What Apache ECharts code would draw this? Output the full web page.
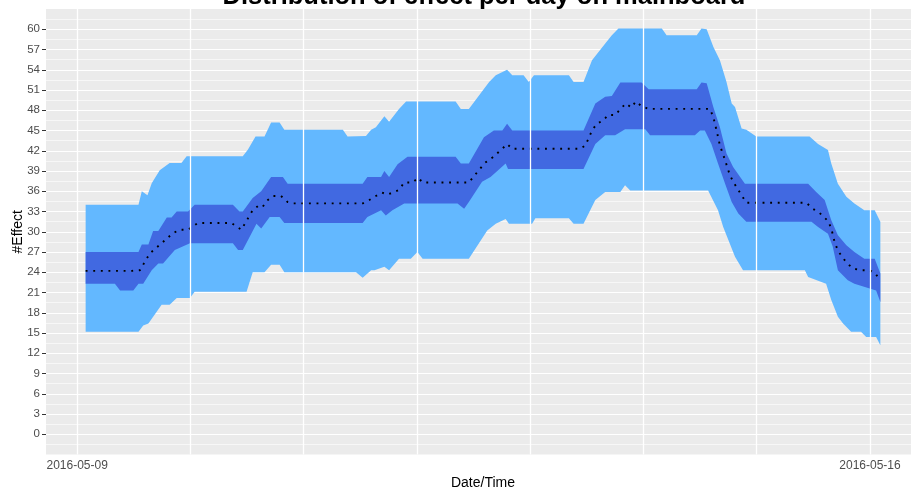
<!DOCTYPE html>
<html>
<head>
<meta charset="utf-8">
<script src="https://cdn.jsdelivr.net/npm/echarts@6/dist/echarts.min.js"></script>
<style>
  html, body { margin: 0; padding: 0; background: #fff; }
  #chart { width: 911px; height: 487px; }
</style>
</head>
<body>
<div id="chart"></div>
<script>
// hours after 2016-05-09 00:00, value
var outerHigh = [
  [1.8,34],[13,34],[13.7,36],[14.9,35.4],[15.8,37.2],[17.5,39.1],[19.6,40.2],[22.1,40.2],[23.2,41.2],
  [35.1,41.2],[36.2,42.2],[37.8,44.1],[39.7,44.1],[41.1,46.2],[42.9,46.2],[43.9,45.1],[56.3,45.1],
  [57.3,44.1],[61.2,44.2],[62.3,45.1],[63.3,45.5],[65.1,47.1],[66.1,46.3],[68.2,48.2],[69.7,49.3],
  [80.2,49.3],[81.3,48.2],[83,48.2],[87.3,52.2],[88.7,53.2],[91.1,54],[92.2,53.2],[94.6,53.2],
  [95.7,52.2],[96.8,53.2],[104.2,53.2],[105.2,52.2],[107.3,52.2],[109.1,55.4],[111.9,57.9],
  [113.3,59.1],[114.7,60.1],[123.9,60.1],[124.9,59.1],[131.3,59.1],[132.3,60.1],[133.4,60],
  [134.8,57.4],[136.2,55.4],[137.6,52.2],[138.7,49],[139.4,48.5],[140.8,45.3],[141.8,45.1],
  [143.9,44.1],[155.2,44.1],[157,43],[159.1,42.1],[159.8,40.1],[161.2,37.1],[163,35.2],
  [164.7,34.2],[166.8,33.2],[169,33.2],[170.2,31.5]
];
var outerLow = [
  [1.8,15.2],[13,15.2],[14,16.1],[15.1,16.4],[17.9,19.2],[19.6,19.2],[21.1,20.2],[23.9,20.2],
  [24.9,21.1],[35.9,21.1],[37.2,24],[39.7,24],[41.1,25.1],[42.9,25.1],[43.9,24],[59.1,24],
  [60.5,23.2],[62.3,24.3],[63,24.3],[65.1,24.8],[66.1,24.3],[68.2,26],[70.7,26],[72.1,27],
  [73.2,26],[83,26],[86.9,30.2],[88.7,31.2],[90.8,31.9],[91.5,31.2],[96.4,31.2],[97.1,32],
  [104.2,32],[105.2,31.2],[107.3,31.2],[109.8,34.7],[111.9,35.9],[115.1,35.9],[116.1,36.9],
  [117.2,36.1],[133.7,36.1],[135.8,33.2],[136.9,30.7],[139.4,26.3],[141.1,24.3],[154.2,24.3],
  [154.9,23.3],[158.7,22.3],[159.8,19.9],[161.2,17.4],[162.3,16.4],[164,15.2],[166.1,15.2],
  [167.2,14.4],[169.3,14.4],[170.2,13.2]
];
var innerHigh = [
  [1.8,27],[13,27],[13.7,28.1],[15.1,28.1],[16.1,30.1],[17.2,30.1],[19,32.1],[20,32.1],[21.1,33],
  [23.5,33],[24.9,34],[33,34],[34.4,33],[35.1,33],[37.2,35],[39,36],[41.1,38.1],[43.6,38.1],
  [44.6,37.1],[60.5,37.1],[61.5,38.1],[64.4,38.1],[65.1,39],[66.1,38.1],[67.9,40],[70,41.1],
  [80.2,41.1],[81.3,40.1],[83,40.1],[86.2,44],[88.3,45],[90.1,45],[91.1,46],[92.2,45],[107.3,45],
  [109.8,49],[111.9,50],[113.3,50.1],[115.1,52.1],[119.6,52.1],[121.1,51.1],[131.3,51.1],
  [132.3,52.1],[133.4,52],[134.8,48.5],[136.2,45.5],[137.6,41.6],[139,39.6],[141.5,37.1],
  [154.9,37.1],[156.6,35.9],[158.4,34.7],[159.8,31.7],[161.2,29.5],[163,28],[164.7,27],
  [166.8,26],[169,26],[170.2,23.8]
];
var innerLow = [
  [1.8,22.3],[8,22.3],[9.1,21.3],[11.9,21.3],[13,22.3],[14,22.3],[15.8,24.3],[17.2,25.3],
  [18.2,25.3],[20.7,27.3],[23.9,28.3],[33,28.3],[34.1,27.3],[35.1,27.3],[36.9,29.7],[38,31.2],
  [39,30.5],[40.8,32.2],[42.9,32.2],[43.9,31.3],[60.5,31.3],[61.5,32.2],[64.4,33.2],[65.4,32.4],
  [66.8,33.2],[69.3,34.2],[80.6,34.2],[82,33.4],[83,34.4],[85.8,37.4],[87.6,38.1],[90.8,40.1],
  [91.3,39.3],[107.3,39.3],[109.8,43],[111.9,44.3],[114,44.3],[116.1,45.2],[120.4,45.2],
  [121.4,44.3],[130.9,44.3],[132,45],[133,45],[134.4,43],[135.8,40.1],[137.3,37.1],[138.7,34.4],
  [140.1,32.7],[141.8,31.5],[155.6,31.5],[157,30.7],[159.1,29.7],[160.1,27.8],[161.2,24.3],
  [163.3,22.8],[164.7,22.3],[169.3,21.3],[170.2,19.6]
];
var median = [
  [1.8,24.2],[11.6,24.2],[13.3,24.3],[15.4,26.8],[17.9,28.3],[20.3,29.8],[21.8,30.3],[23.5,30.3],
  [25.6,31.3],[32.7,31.3],[34.8,30.3],[37.2,33.2],[38.3,33.8],[39.2,33.6],[40.4,34.7],[41.5,35.3],
  [43.2,35.3],[44.6,34.4],[45.7,34.2],[60.5,34.2],[61.9,34.7],[63.3,35.3],[64.6,35.8],[65.8,35.5],
  [68.2,36.2],[69.3,37.3],[71.1,37.3],[72.3,38],[73.2,37.3],[83,37.3],[84.4,38.5],[86.4,40.2],
  [88,41],[90.1,42.3],[91.1,43],[92.2,42.3],[106.6,42.3],[107.7,42.8],[109.1,45],[110.1,46],
  [111.5,46.5],[112.5,47.3],[114,47.3],[115.4,48.4],[116.3,49],[117.4,48.4],[118.4,49.3],
  [119.6,48.6],[121.1,48.2],[134.1,48.2],[134.8,47],[135.5,45],[136.2,42.8],[137.3,40.6],
  [138.3,38.4],[139.2,37.2],[140.8,35.4],[141.8,34.3],[154.5,34.3],[155.9,33.4],[157.3,32.8],
  [159.1,31.6],[159.8,30.5],[160.5,28.5],[161.2,27.2],[162.5,25.9],[163.7,25],[164.7,24.5],
  [166.1,24.3],[167.9,24.3],[169.1,23.9],[170,22.9]
];
var gridDays = ['2016-05-09','2016-05-10','2016-05-11','2016-05-12','2016-05-13','2016-05-14','2016-05-15','2016-05-16'];
var xLabels = ['2016-05-09', '2016-05-16'];
var yTicks = [0,3,6,9,12,15,18,21,24,27,30,33,36,39,42,45,48,51,54,57,60];

var base = echarts.time.parse('2016-05-09').getTime();
function toTime(h) { return base + h * 3600 * 1000; }
function toPoints(arr) { return arr.map(function (p) { return [toTime(p[0]), p[1]]; }); }
var xLabelTimes = xLabels.map(function (d) { return echarts.time.parse(d).getTime(); });

function band(name, hi, lo, color, z) {
  var hiPts = toPoints(hi), loPts = toPoints(lo).reverse();
  return {
    name: name,
    type: 'custom',
    z: z,
    silent: true,
    data: [hiPts[0]],
    encode: { x: 0, y: 1 },
    renderItem: function (params, api) {
      var pts = hiPts.concat(loPts).map(function (p) { return api.coord(p); });
      return { type: 'polygon', shape: { points: pts }, style: { fill: color } };
    }
  };
}

var chart = echarts.init(document.getElementById('chart'));
var font = 'Liberation Sans, Arial, sans-serif';
chart.setOption({
  animation: false,
  backgroundColor: '#fff',
  title: {
    text: 'Distribution of effect per day on mainboard',
    left: 479, textAlign: 'center', top: -21,
    textStyle: { fontFamily: font, fontSize: 25.5, fontWeight: 'bold', color: '#000' }
  },
  grid: {
    left: 46, right: -9, top: 9, bottom: 32.5, outerBoundsMode: 'none',
    show: true, backgroundColor: '#EBEBEB', borderWidth: 0
  },
  xAxis: {
    type: 'time',
    min: toTime(-6.6), max: toTime(178.6),
    name: 'Date/Time', nameLocation: 'middle', nameGap: 18,
    nameTextStyle: { fontFamily: font, fontSize: 14, color: '#000' },
    axisLine: { show: false },
    axisTick: { show: true, length: 4, customValues: xLabelTimes, lineStyle: { color: '#333' } },
    axisLabel: { customValues: xLabelTimes, formatter: '{yyyy}-{MM}-{dd}', fontFamily: font, fontSize: 12, color: '#4D4D4D', margin: 5 },
    splitLine: { show: false }
  },
  yAxis: {
    type: 'value', min: -3, max: 63, interval: 3,
    name: '#Effect', nameLocation: 'middle', nameGap: 21, nameMoveOverlap: false,
    nameTextStyle: { fontFamily: font, fontSize: 14, color: '#000' },
    axisLine: { show: false },
    axisTick: { show: true, length: 4, customValues: yTicks, lineStyle: { color: '#333' } },
    axisLabel: { customValues: yTicks, fontFamily: font, fontSize: 11.5, color: '#4D4D4D', margin: 6 },
    splitLine: { show: true, lineStyle: { color: '#fff', width: 1.2 } },
    minorTick: { show: false, splitNumber: 2 },
    minorSplitLine: { show: true, lineStyle: { color: '#fff', width: 0.6 } }
  },
  series: [
    {
      name: 'days', type: 'line', data: [], z: 1, silent: true,
      markLine: {
        silent: true, symbol: 'none', label: { show: false },
        lineStyle: { color: '#fff', type: 'solid', width: 1.3 },
        data: gridDays.map(function (d) { return { xAxis: echarts.time.parse(d).getTime() }; })
      }
    },
    band('outer', outerHigh, outerLow, '#63B8FF', 2),
    band('inner', innerHigh, innerLow, '#4169E1', 3),
    {
      name: 'median', type: 'line', z: 4, silent: true,
      data: toPoints(median), showSymbol: false,
      lineStyle: { color: '#000', width: 1.9, type: [1.9, 5.7], cap: 'butt' }
    }
  ]
});
</script>
</body>
</html>
